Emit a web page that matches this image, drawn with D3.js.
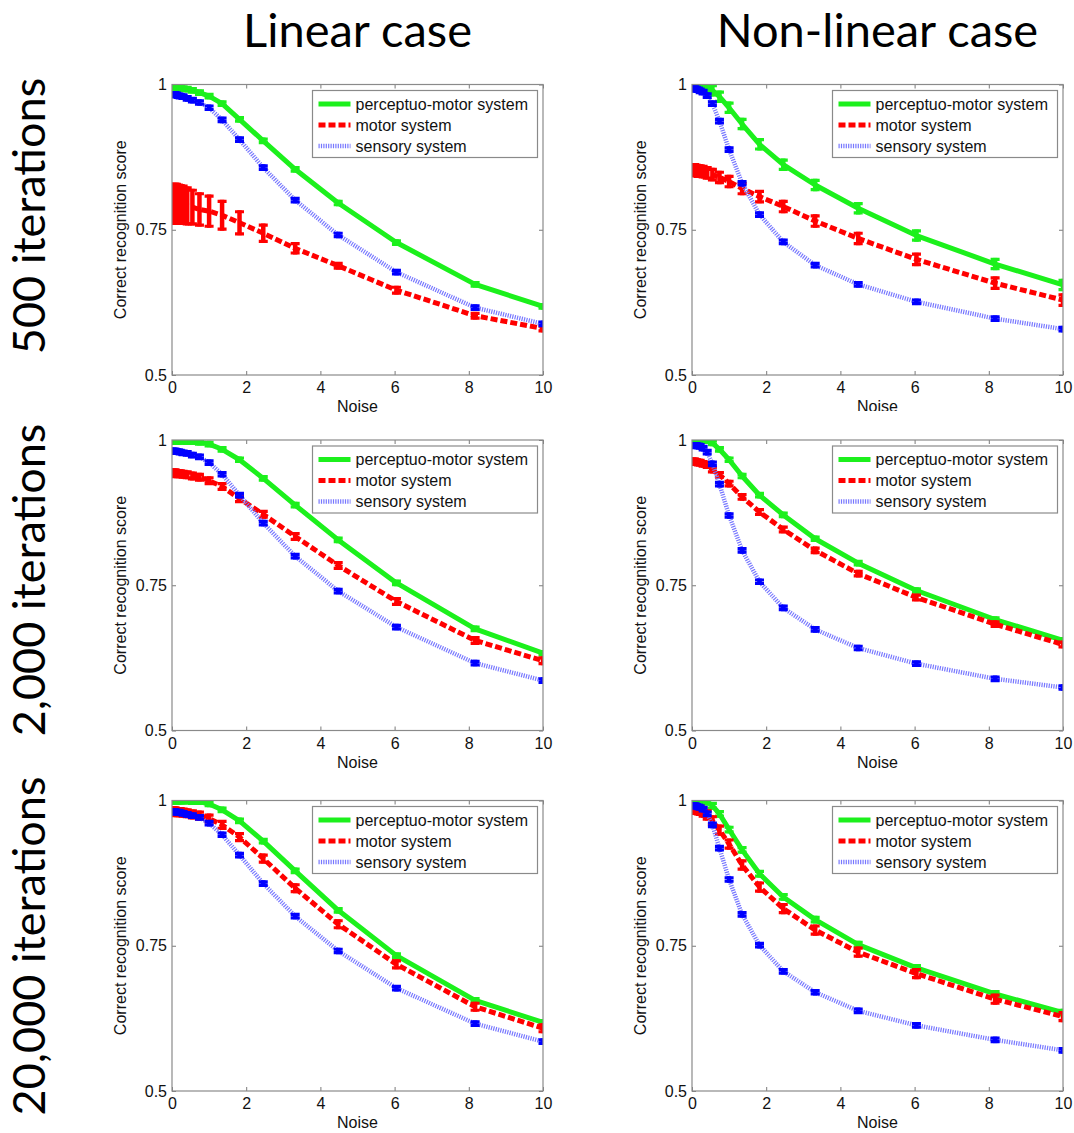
<!DOCTYPE html>
<html>
<head>
<meta charset="utf-8">
<script src="https://cdn.jsdelivr.net/npm/d3@7"></script>
<style>
  html, body { margin: 0; padding: 0; background: #fff; }
  svg { display: block; }
</style>
</head>
<body>
<svg id="chart" width="1074" height="1133"></svg>
<script>
// ---------------- DATA ----------------
const noiseLevels = [0, 0.05, 0.07, 0.09, 0.12, 0.17, 0.22, 0.30, 0.41, 0.55, 0.74, 1.00, 1.35, 1.82, 2.46, 3.32, 4.48, 6.05, 8.17, 10];

const xTicks = [0, 2, 4, 6, 8, 10];
const yTicks = [0.5, 0.75, 1];
const yTickLabels = ["0.5", "0.75", "1"];

const columnTitles = ["Linear case", "Non-linear case"];
const rowTitles = ["500 iterations", "2,000 iterations", "20,000 iterations"];
const seriesNames = ["perceptuo-motor system", "motor system", "sensory system"];
const xAxisLabel = "Noise";
const yAxisLabel = "Correct recognition score";

// 500 iterations, linear
const linear500PM      = [0.996, 0.996, 0.996, 0.996, 0.995, 0.995, 0.994, 0.993, 0.992, 0.990, 0.986, 0.980, 0.967, 0.940, 0.903, 0.854, 0.796, 0.728, 0.656, 0.618];
const linear500Motor   = [0.795, 0.795, 0.795, 0.795, 0.795, 0.794, 0.794, 0.793, 0.791, 0.789, 0.785, 0.782, 0.775, 0.762, 0.744, 0.718, 0.688, 0.646, 0.602, 0.580];
const linear500Sensory = [0.983, 0.983, 0.983, 0.982, 0.982, 0.981, 0.980, 0.979, 0.976, 0.973, 0.969, 0.960, 0.939, 0.905, 0.857, 0.801, 0.741, 0.677, 0.616, 0.588];
const linear500MotorErr = [0.033, 0.033, 0.033, 0.033, 0.033, 0.033, 0.032, 0.032, 0.031, 0.029, 0.027, 0.026, 0.024, 0.019, 0.014, 0.008, 0.004, 0.005, 0.004, 0.004];

// 500 iterations, non-linear
const nonlinear500PM      = [0.999, 0.999, 0.999, 0.999, 0.999, 0.998, 0.998, 0.997, 0.995, 0.990, 0.979, 0.960, 0.932, 0.897, 0.862, 0.827, 0.787, 0.740, 0.691, 0.655];
const nonlinear500Motor   = [0.853, 0.853, 0.853, 0.852, 0.852, 0.851, 0.851, 0.850, 0.848, 0.845, 0.840, 0.833, 0.821, 0.807, 0.790, 0.765, 0.735, 0.699, 0.658, 0.629];
const nonlinear500Sensory = [0.993, 0.993, 0.993, 0.992, 0.992, 0.991, 0.989, 0.987, 0.981, 0.967, 0.937, 0.888, 0.830, 0.776, 0.729, 0.689, 0.656, 0.626, 0.597, 0.579];

// 2,000 iterations, linear
const linear2000PM      = [0.998, 0.998, 0.998, 0.998, 0.998, 0.998, 0.998, 0.998, 0.997, 0.997, 0.996, 0.993, 0.984, 0.966, 0.934, 0.888, 0.828, 0.754, 0.675, 0.633];
const linear2000Motor   = [0.943, 0.943, 0.943, 0.943, 0.942, 0.942, 0.942, 0.941, 0.940, 0.938, 0.936, 0.930, 0.920, 0.899, 0.872, 0.834, 0.784, 0.722, 0.655, 0.620];
const linear2000Sensory = [0.981, 0.981, 0.981, 0.981, 0.980, 0.980, 0.979, 0.978, 0.977, 0.974, 0.971, 0.961, 0.941, 0.905, 0.857, 0.800, 0.740, 0.678, 0.616, 0.586];

// 2,000 iterations, non-linear
const nonlinear2000PM      = [1.000, 1.000, 1.000, 1.000, 1.000, 0.999, 0.999, 0.999, 0.999, 0.995, 0.984, 0.966, 0.938, 0.905, 0.871, 0.830, 0.788, 0.741, 0.691, 0.655];
const nonlinear2000Motor   = [0.963, 0.963, 0.963, 0.962, 0.962, 0.961, 0.961, 0.959, 0.957, 0.949, 0.940, 0.925, 0.902, 0.876, 0.846, 0.810, 0.770, 0.729, 0.683, 0.648];
const nonlinear2000Sensory = [0.991, 0.991, 0.991, 0.991, 0.990, 0.990, 0.989, 0.986, 0.979, 0.959, 0.924, 0.870, 0.810, 0.756, 0.711, 0.674, 0.642, 0.615, 0.589, 0.574];

// 20,000 iterations, linear
const linear20000PM      = [0.999, 0.999, 0.999, 0.999, 0.999, 0.999, 0.999, 0.999, 0.999, 0.998, 0.998, 0.994, 0.984, 0.965, 0.930, 0.879, 0.811, 0.733, 0.656, 0.618];
const linear20000Motor   = [0.981, 0.981, 0.981, 0.981, 0.980, 0.980, 0.980, 0.979, 0.978, 0.976, 0.974, 0.969, 0.958, 0.937, 0.900, 0.849, 0.787, 0.718, 0.645, 0.608];
const linear20000Sensory = [0.981, 0.981, 0.981, 0.980, 0.980, 0.980, 0.979, 0.978, 0.976, 0.974, 0.971, 0.961, 0.941, 0.906, 0.857, 0.801, 0.741, 0.677, 0.616, 0.585];

// 20,000 iterations, non-linear
const nonlinear20000PM      = [1.000, 1.000, 1.000, 1.000, 1.000, 0.999, 0.999, 0.999, 0.998, 0.991, 0.977, 0.950, 0.915, 0.874, 0.834, 0.795, 0.752, 0.712, 0.667, 0.635];
const nonlinear20000Motor   = [0.987, 0.987, 0.986, 0.986, 0.985, 0.984, 0.983, 0.980, 0.975, 0.965, 0.949, 0.925, 0.889, 0.851, 0.814, 0.777, 0.739, 0.702, 0.658, 0.628];
const nonlinear20000Sensory = [0.991, 0.991, 0.991, 0.991, 0.990, 0.989, 0.988, 0.985, 0.977, 0.958, 0.918, 0.864, 0.804, 0.751, 0.706, 0.670, 0.638, 0.613, 0.588, 0.570];

// error-bar half-heights [perceptuo-motor, motor, sensory]
const linear500Err      = [0.003, linear500MotorErr, 0.003];
const nonlinear500Err   = [0.008, 0.009, 0.003];
const linear2000Err     = [0.003, 0.005, 0.003];
const nonlinear2000Err  = [0.003, 0.004, 0.003];
const linear20000Err    = [0.003, 0.006, 0.003];
const nonlinear20000Err = [0.004, 0.007, 0.003];

// ---------------- LAYOUT / STYLE ----------------
const colLeft = [172, 692];
const rowTop = [84.5, 440, 800.5];
const plotW = 371, plotH = 290.5;

const lineColors   = ["#1cf01c", "#ff0000", "#7878ff"];
const markerColors = ["#1cf01c", "#ff0000", "#0000ff"];
const lineDash     = [null, "7,3", "1.2,1.2"];
const lineWidth    = [5, 5, 4.5];

const panels = [
  { r: 0, c: 0, series: [linear500PM, linear500Motor, linear500Sensory], err: linear500Err },
  { r: 0, c: 1, series: [nonlinear500PM, nonlinear500Motor, nonlinear500Sensory], err: nonlinear500Err, clipBottom: 411 },
  { r: 1, c: 0, series: [linear2000PM, linear2000Motor, linear2000Sensory], err: linear2000Err },
  { r: 1, c: 1, series: [nonlinear2000PM, nonlinear2000Motor, nonlinear2000Sensory], err: nonlinear2000Err },
  { r: 2, c: 0, series: [linear20000PM, linear20000Motor, linear20000Sensory], err: linear20000Err },
  { r: 2, c: 1, series: [nonlinear20000PM, nonlinear20000Motor, nonlinear20000Sensory], err: nonlinear20000Err }
];

const svg = d3.select("#chart");
const defs = svg.append("defs");
const axisFont = "'Liberation Sans', Arial, sans-serif";
const titleFont = "Lato, 'Open Sans', sans-serif";

// column titles
svg.selectAll("text.coltitle").data(columnTitles).join("text")
  .attr("class", "coltitle")
  .attr("x", (d, i) => colLeft[i] + plotW / 2)
  .attr("y", 47)
  .attr("text-anchor", "middle")
  .style("font-family", titleFont)
  .style("font-size", "47px")
  .style("fill", "#000")
  .text(d => d);

// row titles
const rowCenters = [216, 580, 946];
svg.selectAll("text.rowtitle").data(rowTitles).join("text")
  .attr("class", "rowtitle")
  .attr("transform", (d, i) => `translate(45,${rowCenters[i]}) rotate(-90)`)
  .attr("text-anchor", "middle")
  .style("font-family", titleFont)
  .style("font-size", "45px")
  .style("fill", "#000")
  .text(d => d);

panels.forEach((p, pi) => {
  const x0 = colLeft[p.c], y0 = rowTop[p.r];
  const x = d3.scaleLinear().domain([0, 10]).range([0, plotW]);
  const y = d3.scaleLinear().domain([0.5, 1]).range([plotH, 0]);

  const g = svg.append("g").attr("transform", `translate(${x0},${y0})`);

  const clipId = "clip" + pi;
  defs.append("clipPath").attr("id", clipId)
    .append("rect").attr("x", 0).attr("y", 0).attr("width", plotW).attr("height", plotH);

  // axes (MATLAB-style inward ticks)
  const styleAxis = sel => {
    sel.select(".domain").remove();
    sel.selectAll(".tick line").attr("stroke", "#7a7a7a").attr("stroke-width", 1);
    sel.selectAll(".tick text").style("font-family", axisFont).style("font-size", "16px").attr("fill", "#111");
  };
  g.append("g").attr("transform", `translate(0,${plotH})`)
    .call(d3.axisBottom(x).tickValues(xTicks).tickFormat(d3.format("d")).tickSizeInner(-4).tickSizeOuter(0).tickPadding(7))
    .call(styleAxis);
  g.append("g")
    .call(d3.axisTop(x).tickValues(xTicks).tickFormat("").tickSizeInner(-4).tickSizeOuter(0))
    .call(styleAxis);
  g.append("g")
    .call(d3.axisLeft(y).tickValues(yTicks).tickFormat((d, i) => yTickLabels[i]).tickSizeInner(-4).tickSizeOuter(0).tickPadding(5))
    .call(styleAxis);
  g.append("g").attr("transform", `translate(${plotW},0)`)
    .call(d3.axisRight(y).tickValues(yTicks).tickFormat("").tickSizeInner(-4).tickSizeOuter(0))
    .call(styleAxis);

  // data
  const plot = g.append("g").attr("clip-path", `url(#${clipId})`);
  p.series.forEach((vals, si) => {
    const pts = noiseLevels.map((n, k) => ({ n, v: vals[k], e: Array.isArray(p.err[si]) ? p.err[si][k] : p.err[si] }));
    const line = d3.line().x(d => x(d.n)).y(d => y(d.v));
    plot.append("path")
      .datum(pts)
      .attr("d", line)
      .attr("fill", "none")
      .attr("stroke", lineColors[si])
      .attr("stroke-width", lineWidth[si])
      .attr("stroke-dasharray", lineDash[si])
      .attr("stroke-linejoin", "round");
    const capW = 9;
    const mk = plot.append("g");
    // stems
    mk.selectAll("line.stem").data(pts).join("line")
      .attr("class", "stem")
      .attr("x1", d => x(d.n)).attr("x2", d => x(d.n))
      .attr("y1", d => y(d.v + d.e) - 1.5).attr("y2", d => y(d.v - d.e) + 1.5)
      .attr("stroke", markerColors[si]).attr("stroke-width", 4.5);
    // caps
    mk.selectAll("path.cap").data(pts).join("path")
      .attr("class", "cap")
      .attr("d", d => {
        const cx = x(d.n), yt = y(d.v + d.e), yb = y(d.v - d.e);
        return `M${cx - capW / 2},${yt}H${cx + capW / 2}M${cx - capW / 2},${yb}H${cx + capW / 2}`;
      })
      .attr("fill", "none")
      .attr("stroke", markerColors[si])
      .attr("stroke-width", 3.2);
  });

  // box
  g.append("rect").attr("x", 0).attr("y", 0).attr("width", plotW).attr("height", plotH)
    .attr("fill", "none").attr("stroke", "#8a8a8a").attr("stroke-width", 1.2);

  // legend
  const lg = g.append("g").attr("transform", `translate(${plotW - 230.5},${6})`);
  lg.append("rect").attr("width", 225).attr("height", 67)
    .attr("fill", "#fff").attr("stroke", "#8a8a8a").attr("stroke-width", 1.2);
  seriesNames.forEach((name, si) => {
    const ly = 13.5 + si * 21;
    lg.append("line").attr("x1", 6).attr("x2", 38).attr("y1", ly).attr("y2", ly)
      .attr("stroke", lineColors[si]).attr("stroke-width", lineWidth[si])
      .attr("stroke-dasharray", lineDash[si]);
    lg.append("text").attr("x", 43).attr("y", ly).attr("dy", "0.35em")
      .style("font-family", axisFont).style("font-size", "16px").attr("fill", "#111")
      .text(name);
  });

  // axis labels
  const xl = g.append("text")
    .attr("x", plotW / 2).attr("y", plotH + 37)
    .attr("text-anchor", "middle")
    .style("font-family", axisFont).style("font-size", "16px").attr("fill", "#111")
    .text(xAxisLabel);
  if (p.clipBottom) {
    const cid = "xlclip" + pi;
    defs.append("clipPath").attr("id", cid)
      .append("rect").attr("x", -50).attr("y", plotH).attr("width", plotW + 100).attr("height", p.clipBottom - y0 - plotH);
    xl.attr("clip-path", `url(#${cid})`);
  }
  g.append("text")
    .attr("transform", `translate(-46,${plotH / 2}) rotate(-90)`)
    .attr("text-anchor", "middle")
    .style("font-family", axisFont).style("font-size", "16px").attr("fill", "#111")
    .text(yAxisLabel);
});
</script>
</body>
</html>
